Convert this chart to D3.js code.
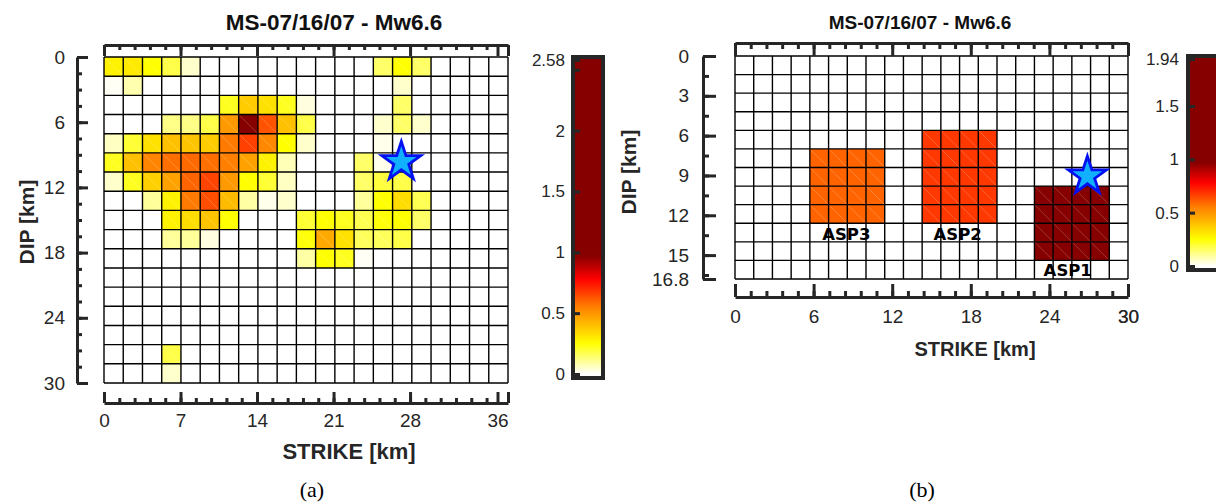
<!DOCTYPE html>
<html><head><meta charset="utf-8">
<script src="https://cdn.jsdelivr.net/npm/d3@7"></script>
<style>body{margin:0;background:#fff}svg{display:block}</style>
</head><body>
<script>
// ---------- DATA ----------
const title = "MS-07/16/07 - Mw6.6";
// left panel: slip per subfault (17 dip rows x 21 strike cols), metres
const leftSlip = [
 [0.28,0.30,0.25,0.18,0.05,0,0,0,0,0,0,0,0,0,0.15,0.25,0.15,0,0,0,0],
 [0.01,0.08,0,0,0,0,0,0,0,0,0,0,0,0,0,0.05,0,0,0,0,0],
 [0,0,0,0,0,0,0.22,0.37,0.32,0.22,0.03,0,0,0,0,0.15,0,0,0,0,0],
 [0,0,0,0.12,0.12,0.18,0.49,2.58,0.63,0.40,0.18,0,0,0,0.05,0.15,0.05,0,0,0,0],
 [0.06,0.20,0.32,0.40,0.39,0.37,0.56,0.665,0.53,0.25,0.05,0,0,0,0.02,0,0,0,0,0,0],
 [0.22,0.40,0.54,0.58,0.59,0.58,0.55,0.47,0.28,0.07,0,0,0,0.15,0.02,0,0,0,0,0,0],
 [0.05,0.22,0.36,0.47,0.60,0.66,0.49,0.25,0.20,0.06,0,0,0,0.15,0.19,0.18,0,0,0,0,0],
 [0,0,0.10,0.28,0.56,0.64,0.41,0.09,0.02,0.05,0,0,0,0.10,0.25,0.33,0.17,0,0,0,0],
 [0,0,0,0.28,0.33,0.39,0.25,0,0,0,0.20,0.25,0.22,0.17,0.24,0.25,0.15,0,0,0,0],
 [0,0,0,0.10,0.10,0.03,0,0,0,0,0.24,0.45,0.32,0.16,0.16,0.18,0,0,0,0,0],
 [0,0,0,0,0,0,0,0,0,0,0.09,0.25,0.22,0.01,0,0,0,0,0,0,0],
 [0,0,0,0,0,0,0,0,0,0,0,0,0,0,0,0,0,0,0,0,0],
 [0,0,0,0,0,0,0,0,0,0,0,0,0,0,0,0,0,0,0,0,0],
 [0,0,0,0,0,0,0,0,0,0,0,0,0,0,0,0,0,0,0,0,0],
 [0,0,0,0,0,0,0,0,0,0,0,0,0,0,0,0,0,0,0,0,0],
 [0,0,0,0.18,0,0,0,0,0,0,0,0,0,0,0,0,0,0,0,0,0],
 [0,0,0,0.05,0,0,0,0,0,0,0,0,0,0,0,0,0,0,0,0,0]
];
// right panel: asperity model (12 dip rows x 21 strike cols)
const rightSlip = [
 [0,0,0,0,0,0,0,0,0,0,0,0,0,0,0,0,0,0,0,0,0],
 [0,0,0,0,0,0,0,0,0,0,0,0,0,0,0,0,0,0,0,0,0],
 [0,0,0,0,0,0,0,0,0,0,0,0,0,0,0,0,0,0,0,0,0],
 [0,0,0,0,0,0,0,0,0,0,0,0,0,0,0,0,0,0,0,0,0],
 [0,0,0,0,0,0,0,0,0,0,0.68,0.68,0.68,0.68,0,0,0,0,0,0,0],
 [0,0,0,0,0.60,0.60,0.60,0.60,0,0,0.68,0.68,0.68,0.68,0,0,0,0,0,0,0],
 [0,0,0,0,0.60,0.60,0.60,0.60,0,0,0.68,0.68,0.68,0.68,0,0,0,0,0,0,0],
 [0,0,0,0,0.60,0.60,0.60,0.60,0,0,0.68,0.68,0.68,0.68,0,0,1.94,1.94,1.94,1.94,0],
 [0,0,0,0,0.60,0.60,0.60,0.60,0,0,0.68,0.68,0.68,0.68,0,0,1.94,1.94,1.94,1.94,0],
 [0,0,0,0,0,0,0,0,0,0,0,0,0,0,0,0,1.94,1.94,1.94,1.94,0],
 [0,0,0,0,0,0,0,0,0,0,0,0,0,0,0,0,1.94,1.94,1.94,1.94,0],
 [0,0,0,0,0,0,0,0,0,0,0,0,0,0,0,0,0,0,0,0,0]
];
const aspNames = ["ASP3","ASP2","ASP1"];
const aspLabelPos = [[8.5,13.85],[17.0,13.85],[25.4,16.55]]; // [strike km, dip km] of label baseline
const leftHypo = [27.2, 9.66];
const rightHypo = [26.9, 9.05];
const leftStrikeMajor = [0,7,14,21,28,36];
const leftDipMajor = [0,6,12,18,24,30];
const rightStrikeMajor = [0,6,12,18,24,30];
const rightDipMajor = [0,3,6,9,12,15,16.8];
const leftCbTicks = [0,0.5,1,1.5,2,2.5,2.58];
const rightCbTicks = [0,0.5,1,1.5,1.94];
const leftMax = 2.58, rightMax = 1.94;

// ---------- STYLE ----------
const axCol = "#262626";
const sans = "'Liberation Sans', Arial, Helvetica, sans-serif";
const cmap = d3.scaleLinear()
  .domain([0,0.25,0.55,0.78,0.97])
  .range(["#ffffff","#ffff00","#ff8000","#ff0000","#860000"])
  .clamp(true);

const svg = d3.select("body").append("svg").attr("width",1216).attr("height",504);
const defs = svg.append("defs");

function heat(g, data, x, y, dx, dy) {
  const cells = [];
  data.forEach((row,i)=>row.forEach((v,j)=>cells.push({i,j,v})));
  g.selectAll("rect.c").data(cells).join("rect")
    .attr("x",d=>x(d.j*dx)).attr("y",d=>y(d.i*dy))
    .attr("width",d=>x((d.j+1)*dx)-x(d.j*dx))
    .attr("height",d=>y((d.i+1)*dy)-y(d.i*dy))
    .attr("fill",d=>cmap(d.v));
  g.selectAll("line.diag").data(cells.filter(d=>d.v>0.02)).join("line")
    .attr("x1",d=>x(d.j*dx)).attr("y1",d=>y(d.i*dy))
    .attr("x2",d=>x((d.j+1)*dx)).attr("y2",d=>y((d.i+1)*dy))
    .attr("stroke","rgba(255,255,255,0.35)").attr("stroke-width",0.6);
  const nr = data.length, nc = data[0].length;
  g.selectAll("line.v").data(d3.range(nc+1)).join("line")
    .attr("x1",j=>x(j*dx)).attr("x2",j=>x(j*dx))
    .attr("y1",y(0)).attr("y2",y(nr*dy))
    .attr("stroke","#000").attr("stroke-width",1.4);
  g.selectAll("line.h").data(d3.range(nr+1)).join("line")
    .attr("y1",i=>y(i*dy)).attr("y2",i=>y(i*dy))
    .attr("x1",x(0)).attr("x2",x(nc*dx))
    .attr("stroke","#000").attr("stroke-width",1.4);
}

function styleAxis(g, fs) {
  g.attr("font-family", sans).attr("font-size", fs);
  g.selectAll("path.domain").attr("stroke", axCol).attr("stroke-width", 3);
  g.selectAll(".tick line").attr("stroke", axCol).attr("stroke-width", 3);
  g.selectAll(".tick text").attr("fill", axCol);
}

function frameAxes(cfg) {
  const {x, y, xMajor, xMinor, yMajor, yMinor, topY, botY, leftX, xEnd, fs, xPad, yPad, majLen, minLen} = cfg;
  const xVals = xMajor.concat([xEnd]);
  const gt = svg.append("g").attr("transform",`translate(0,${topY})`)
    .call(d3.axisTop(x).tickValues(xVals).tickSize(-majLen).tickSizeOuter(0).tickFormat(""));
  styleAxis(gt, fs);
  const gt2 = svg.append("g").attr("transform",`translate(0,${topY})`)
    .call(d3.axisTop(x).tickValues(xMinor).tickSize(-minLen).tickFormat(""));
  gt2.select("path.domain").remove(); styleAxis(gt2, fs);
  const gb = svg.append("g").attr("transform",`translate(0,${botY})`)
    .call(d3.axisBottom(x).tickValues(xVals).tickSize(-majLen).tickSizeOuter(0).tickPadding(xPad)
      .tickFormat(d=> xMajor.includes(d) ? d : ""));
  styleAxis(gb, fs);
  const gb2 = svg.append("g").attr("transform",`translate(0,${botY})`)
    .call(d3.axisBottom(x).tickValues(xMinor).tickSize(-minLen).tickFormat(""));
  gb2.select("path.domain").remove(); styleAxis(gb2, fs);
  const gl = svg.append("g").attr("transform",`translate(${leftX},0)`)
    .call(d3.axisLeft(y).tickValues(yMajor).tickSize(-majLen).tickSizeOuter(0).tickPadding(yPad).tickFormat(d=>d));
  styleAxis(gl, fs);
  const gl2 = svg.append("g").attr("transform",`translate(${leftX},0)`)
    .call(d3.axisLeft(y).tickValues(yMinor).tickSize(-minLen).tickFormat(""));
  gl2.select("path.domain").remove(); styleAxis(gl2, fs);
}

function colorbar(id, x0, w, cy, ticks, fs, pad) {
  const grad = defs.append("linearGradient").attr("id",id)
    .attr("gradientUnits","userSpaceOnUse")
    .attr("x1",0).attr("x2",0).attr("y1",cy.range()[0]).attr("y2",cy.range()[1]);
  const dmax = cy.domain()[1];
  d3.range(0,101).forEach(k=>{
    const v = dmax*k/100;
    grad.append("stop").attr("offset",(k)+"%").attr("stop-color",cmap(v));
  });
  const y0 = cy.range()[0]+4, y1 = cy.range()[1]-3;
  svg.append("rect").attr("x",x0).attr("y",y1).attr("width",w).attr("height",y0-y1)
    .attr("fill",`url(#${id})`).attr("stroke",axCol).attr("stroke-width",4);
  const g = svg.append("g").attr("transform",`translate(${x0},0)`)
    .call(d3.axisLeft(cy).tickValues(ticks).tickSize(-7).tickPadding(pad)
      .tickFormat(d=> d===2.5 ? "" : d));
  g.select("path.domain").remove();
  styleAxis(g, fs);
}

function star(x, y, c, size) {
  svg.append("path").attr("d", d3.symbol(d3.symbolStar).size(size)())
    .attr("transform",`translate(${x(c[0])},${y(c[1])})`)
    .attr("fill","#10b0ff").attr("stroke","#0010f0").attr("stroke-width",2.8)
    .attr("stroke-linejoin","miter");
}

// ---------- LEFT PANEL ----------
const lCell = 1.76, lRowKm = 30/17;
const xL = d3.scaleLinear().domain([0, 21*lCell]).range([104, 508]);
const yL = d3.scaleLinear().domain([0, 30]).range([57, 383]);
heat(svg.append("g"), leftSlip, xL, yL, lCell, lRowKm);
frameAxes({x:xL, y:yL, xMajor:leftStrikeMajor, xMinor:d3.range(0,35.5,1.4),
  yMajor:leftDipMajor, yMinor:d3.range(0,30,1.5), topY:45, botY:403, leftX:77,
  xEnd:21*lCell, fs:19, xPad:11, yPad:12, majLen:11, minLen:5});
star(xL, yL, leftHypo, 470);
const cyL = d3.scaleLinear().domain([0,leftMax]).range([374,60]);
colorbar("cbL", 573, 30, cyL, leftCbTicks, 17, 8);

svg.append("text").attr("x",334).attr("y",30).attr("text-anchor","middle")
  .attr("font-family",sans).attr("font-weight","bold").attr("font-size",22.5).attr("fill","#111").text(title);
svg.append("text").attr("x",349).attr("y",459).attr("text-anchor","middle")
  .attr("font-family",sans).attr("font-weight","bold").attr("font-size",22).attr("fill",axCol).text("STRIKE [km]");
svg.append("text").attr("transform","translate(34,222) rotate(-90)").attr("text-anchor","middle")
  .attr("font-family",sans).attr("font-weight","bold").attr("font-size",21).attr("fill",axCol).text("DIP [km]");
svg.append("text").attr("x",312).attr("y",497).attr("text-anchor","middle")
  .attr("font-family","'Liberation Serif','Times New Roman',serif").attr("font-size",22).attr("fill","#000").text("(a)");

// ---------- RIGHT PANEL ----------
const rCellX = 30/21, rCellY = 1.4;
const xR = d3.scaleLinear().domain([0, 30]).range([735, 1128]);
const yR = d3.scaleLinear().domain([0, 16.8]).range([56, 279]);
heat(svg.append("g"), rightSlip, xR, yR, rCellX, rCellY);
frameAxes({x:xR, y:yR, xMajor:rightStrikeMajor, xMinor:d3.range(0,29.9,1.2),
  yMajor:rightDipMajor, yMinor:d3.range(0,16.8,1.5), topY:43, botY:297, leftX:703,
  xEnd:30, fs:19, xPad:13, yPad:14, majLen:13, minLen:6});
svg.selectAll("text.asp").data(aspNames).join("text")
  .attr("x",(d,i)=>xR(aspLabelPos[i][0])).attr("y",(d,i)=>yR(aspLabelPos[i][1]))
  .attr("text-anchor","middle").attr("font-family","'DejaVu Sans',sans-serif")
  .attr("font-weight","bold").attr("font-size",16.5).attr("fill","#000").text(d=>d);
star(xR, yR, rightHypo, 450);
const cyR = d3.scaleLinear().domain([0,rightMax]).range([266,59]);
colorbar("cbR", 1188, 30, cyR, rightCbTicks, 17, 9);

svg.append("text").attr("x",920).attr("y",29).attr("text-anchor","middle")
  .attr("font-family",sans).attr("font-weight","bold").attr("font-size",19).attr("fill","#111").text(title);
svg.append("text").attr("x",975).attr("y",356).attr("text-anchor","middle")
  .attr("font-family",sans).attr("font-weight","bold").attr("font-size",20).attr("fill",axCol).text("STRIKE [km]");
svg.append("text").attr("transform","translate(636,172) rotate(-90)").attr("text-anchor","middle")
  .attr("font-family",sans).attr("font-weight","bold").attr("font-size",21).attr("fill",axCol).text("DIP [km]");
svg.append("text").attr("x",922).attr("y",497).attr("text-anchor","middle")
  .attr("font-family","'Liberation Serif','Times New Roman',serif").attr("font-size",22).attr("fill","#000").text("(b)");
</script>
</body></html>
